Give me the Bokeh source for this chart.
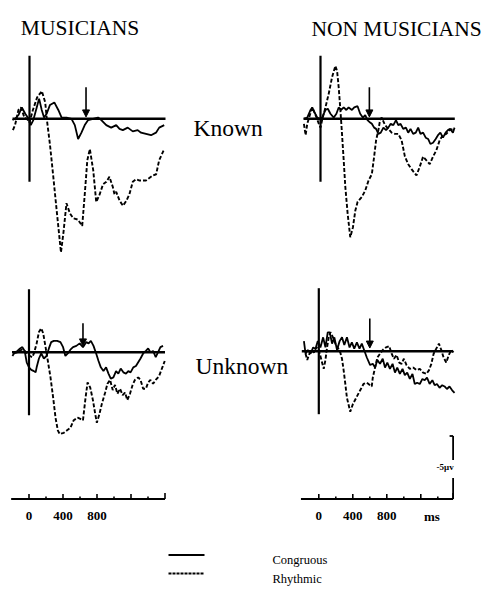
from bokeh.plotting import figure
from bokeh.models import Range1d, Arrow, NormalHead
from bokeh.core.properties import value
from bokeh.embed import file_html
from bokeh.resources import INLINE

# ---------------- data (ms, microvolts; positive plotted downward) ----------------
TL_RHY_T = [-195, -170, -130, -100, -60, -30, 0, 40, 90, 145, 185, 205, 240, 280, 320, 370, 400, 435, 475, 515,
            570, 620, 650, 680, 710, 750, 785, 825, 865, 905, 940, 980, 1000, 1020, 1060, 1100, 1140, 1175, 1215,
            1255, 1295, 1370, 1450, 1490, 1525, 1585]
TL_RHY_V = [0.9, 0.5, -0.7, -0.9, -0.1, 0, 0.3, -0.7, -1.7, -2.2, -1.3, 0.1, 2.0, 4.6, 7.3, 10.6, 9.0, 6.7, 7.5, 7.9,
            8.0, 8.5, 6.0, 3.3, 2.4, 4.1, 6.6, 6.0, 5.2, 5.0, 4.6, 5.4, 6.0, 5.8, 6.5, 6.9, 6.5, 6.0, 5.0,
            4.8, 4.9, 4.9, 4.5, 4.4, 3.3, 2.4]
TL_CON_T = [-200, -170, -130, -90, -50, -10, 15, 45, 85, 113, 144, 171, 202, 241, 292, 339, 378, 436, 494, 533,
            572, 611, 650, 690, 748, 806, 845, 903, 961, 1020, 1059, 1098, 1156, 1215, 1273, 1312, 1371, 1430,
            1488, 1526, 1585]
TL_CON_V = [0.1, 0, -0.3, -0.9, -0.4, 0, 0.5, 0.1, -0.9, -1.6, -0.7, -0.1, -0.4, -1.1, -1.3, -0.7, -0.1, -0.1, 0, 0.5,
            1.6, 1.1, 0.5, 0.1, 0, -0.1, 0.1, 0.5, 0.7, 0.5, 0.8, 0.9, 0.7, 1.0, 0.9, 1.1, 1.2, 1.3,
            1.1, 0.7, 0.5]

TR_RHY_T = [-195, -175, -156, -125, -97, -58, -19, 0, 19, 58, 97, 136, 175, 195, 214, 234, 253, 273, 292, 319,
            350, 382, 409, 436, 487, 526, 565, 604, 631, 654, 681, 701, 720, 759, 798, 837, 876, 915, 954, 993,
            1032, 1071, 1129, 1168, 1207, 1246, 1285, 1324, 1363, 1402, 1441, 1480, 1519, 1558]
TR_RHY_V = [0.4, 1.3, 0.4, -0.3, -0.9, -0.3, 0.4, 0.7, 0.1, -0.9, -2.0, -3.3, -4.2, -3.8, -2.5, -0.7, 1.2, 3.3, 5.4, 7.5,
            9.4, 8.6, 7.3, 6.6, 6.2, 5.7, 4.9, 4.4, 3.0, 1.7, 0.9, 0.1, -0.1, 0.5, 0.8, 1.1, 1.2, 1.2, 1.7, 3.0,
            3.6, 4.0, 4.5, 3.8, 3.0, 3.3, 3.6, 3.0, 2.5, 1.7, 1.3, 1.2, 0.9, 0.8]
TR_CON_T = [-195, -156, -117, -97, -70, -39, -8, 19, 58, 86, 117, 156, 187, 214, 241, 273, 304, 331, 370, 397,
            436, 467, 498, 526, 553, 584, 604, 631, 654, 681, 709, 740, 771, 798, 826, 857, 888, 915, 942, 973,
            1005, 1032, 1059, 1090, 1121, 1149, 1176, 1207, 1238, 1266, 1293, 1324, 1355, 1382, 1410, 1441, 1472,
            1499, 1526, 1558, 1577]
TR_CON_V = [0, -0.1, -0.7, -0.9, -0.5, -0.1, 0, -0.1, -0.7, -0.8, -0.4, -0.1, -0.4, -0.9, -0.7, -0.9, -0.7, -0.9, -0.7, -0.9,
            -1.0, -0.4, -0.1, -0.3, 0.1, 0.3, 0.4, 0.7, 0.8, 1.2, 1.1, 0.7, 0.9, 0.7, 0.4, 0.5, 0.1, 0.5, 0.4, 0.8,
            0.7, 1.1, 0.8, 1.2, 1.1, 0.7, 1.2, 1.1, 1.5, 1.6, 2.0, 1.9, 1.6, 1.3, 1.1, 1.5, 1.1,
            0.9, 0.8, 1.1, 0.7]

BL_RHY_T = [-183, -136, -90, -51, -19, 12, 39, 58, 90, 117, 144, 167, 195, 222, 253, 284, 312, 339, 362, 409,
            448, 487, 526, 572, 604, 635, 662, 689, 720, 752, 779, 798, 829, 857, 896, 923, 954, 985, 1012, 1040,
            1071, 1102, 1129, 1157, 1188, 1219, 1246, 1285, 1312, 1343, 1375, 1402, 1429, 1460, 1491, 1530, 1569, 1597]
BL_RHY_V = [0.1, 0, -0.2, -0.1, 0.1, 0.3, 0.4, 0.1, -0.7, -1.6, -1.9, -1.5, -0.4, 0.7, 2.0, 3.6, 5.2, 6.2, 6.5, 6.4,
            6.2, 6.0, 5.4, 5.2, 5.3, 5.4, 3.8, 2.4, 2.8, 3.8, 4.9, 5.6, 4.9, 4.1, 3.2, 2.5, 2.2, 3.0, 2.6, 3.3,
            2.9, 3.4, 3.2, 3.8, 3.3, 2.6, 2.2, 2.0, 2.2, 2.9, 2.9, 2.4, 2.2, 2.5, 2.2, 1.9, 1.2, 0.7]
BL_CON_T = [-195, -167, -136, -105, -78, -51, -27, 0, 27, 58, 78, 90, 117, 144, 175, 206, 234, 261, 292, 331,
            370, 401, 428, 456, 487, 518, 557, 596, 635, 674, 701, 728, 759, 790, 818, 845, 876, 907, 935, 962,
            993, 1024, 1051, 1079, 1110, 1141, 1168, 1195, 1227, 1258, 1285, 1312, 1343, 1375, 1402, 1429, 1460,
            1491, 1519, 1546, 1577]
BL_CON_V = [0.3, 0, -0.1, -0.3, -0.4, -0.1, 0.8, 1.2, 1.4, 1.5, 1.6, 1.2, 0.5, 0.1, 0.5, 0.3, -0.3, -0.8, -0.9, -0.9,
            -0.8, -0.4, 0.3, 0.1, -0.2, -0.4, -0.5, -0.7, -0.4, -0.8, -0.7, -0.9, -0.5, 0.1, 0.7, 1.2, 1.5, 1.2, 1.7, 2.1,
            2.0, 1.5, 1.7, 1.3, 1.6, 1.7, 1.5, 1.6, 1.2, 1.1, 0.8, 0.5, 0.1, -0.1, -0.3, 0, -0.1,
            0.4, 0, -0.4, -0.5]

BR_RHY_T = [-156, -136, -117, -90, -58, -27, 0, 27, 58, 78, 97, 117, 136, 167, 195, 222, 253, 273, 292, 312,
            331, 370, 401, 440, 487, 526, 565, 623, 635, 662, 689, 720, 752, 790, 829, 857, 884, 915, 946, 974,
            1001, 1032, 1071, 1110, 1149, 1188, 1227, 1266, 1297, 1324, 1351, 1382, 1413, 1441, 1468, 1499, 1530,
            1558, 1585]
BR_RHY_V = [0.2, 0.7, 0.3, -0.1, 0.1, -0.3, -0.1, 0.6, 1.4, 0.7, -0.3, -1.1, -1.5, -1.1, -0.6, -0.3, 0.1, 0.6, 1.5, 2.6,
            3.7, 4.8, 4.2, 3.7, 3.1, 2.6, 2.5, 2.8, 2.1, 1.3, 0.5, 0.2, -0.1, -0.3, -0.4, 0.2, 0.6, 0.3, 0.9, 1.0,
            0.6, 1.1, 1.4, 1.3, 1.5, 1.4, 1.7, 1.8, 1.5, 1.0, 0.2, -0.2, -0.6, -0.1, 0.5, 0.9, 0.3,
            -0.1, 0.1]
BR_CON_T = [-175, -156, -129, -97, -66, -39, -12, 19, 51, 78, 105, 129, 156, 183, 214, 245, 273, 300, 331, 362,
            389, 417, 448, 479, 506, 533, 565, 604, 635, 662, 689, 720, 752, 779, 806, 837, 868, 896, 923, 954,
            985, 1012, 1040, 1071, 1102, 1129, 1157, 1188, 1219, 1246, 1273, 1304, 1336, 1363, 1390, 1421, 1452,
            1480, 1507, 1538, 1569, 1597]
BR_CON_V = [-0.8, 0.2, -0.1, 0.2, -0.3, -0.2, -0.8, -0.3, -1.1, -0.3, -1.5, -1.5, -0.6, -1.1, -0.1, -0.8, -1.1, -0.5, -1.1, -0.3,
            -0.7, -0.2, -0.7, -0.2, -0.6, -0.1, 0.5, 1.1, 1.0, 1.3, 0.7, 1.0, 0.6, 1.3, 0.9, 1.4, 1.0, 1.7, 1.3, 1.8,
            1.4, 1.9, 1.7, 2.2, 1.8, 2.6, 2.5, 2.6, 2.2, 2.3, 2.1, 2.6, 2.3, 2.7, 2.6, 2.9, 2.7,
            2.8, 3.0, 2.8, 3.1, 3.3]

ARROW_MS = {"tl": 665, "tr": 575, "bl": 635, "br": 600}
ARROW_FROM_UV = {"tl": -2.5, "tr": -2.5, "bl": -2.3, "br": -2.6}
ARROW_TO_UV = {"tl": -0.15, "tr": -0.15, "bl": -0.5, "br": -0.25}

EPOCH = (-200, 1600)
VAXIS_UV = 5.0
TICK_MAJOR = [0, 400, 800, 1200]
TICK_MINOR = [200, 600, 1000, 1400]
TICK_LABELS = ["0", "400", "800"]
CAL_UV = 5.0
CAL_LABEL = "-5\u03bcv"

GROUP_TITLES = ["MUSICIANS", "NON MUSICIANS"]
CONDITIONS = ["Known", "Unknown"]
LEGEND = ["Congruous", "Rhythmic"]

# ---------------- layout ----------------
W, H = 483, 588
OFF = 0      # page position of the canvas origin as photographed
KX = 0.085   # px per ms
KY = 12.6    # px per microvolt
PANELS = {"tl": (29.0, 118.3), "tr": (320.0, 118.3), "bl": (28.5, 351.7), "br": (318.3, 350.7)}
AXIS_Y = 498.5
FONT = value("Liberation Serif")

p = figure(width=W, height=H, x_range=Range1d(OFF, OFF + W), y_range=Range1d(OFF + H, OFF),
           output_backend="svg", toolbar_location=None,
           x_axis_location=None, y_axis_location=None, min_border=0)
p.outline_line_color = None
p.xgrid.visible = False
p.ygrid.visible = False
p.background_fill_color = "white"
p.border_fill_color = "white"

for key, (x0, y0) in PANELS.items():
    a = -(x0 - OFF) / KX
    d = -(y0 - OFF) / KY
    p.extra_x_ranges[key + "_x"] = Range1d(a, a + W / KX)
    p.extra_y_ranges[key + "_y"] = Range1d(d + H / KY, d)

traces = {
    "tl": (TL_CON_T, TL_CON_V, TL_RHY_T, TL_RHY_V),
    "tr": (TR_CON_T, TR_CON_V, TR_RHY_T, TR_RHY_V),
    "bl": (BL_CON_T, BL_CON_V, BL_RHY_T, BL_RHY_V),
    "br": (BR_CON_T, BR_CON_V, BR_RHY_T, BR_RHY_V),
}

for key, (ct, cv, rt, rv) in traces.items():
    rx, ry = key + "_x", key + "_y"
    end = EPOCH[1] if key[1] == "l" else 1580
    p.line([EPOCH[0], end], [0, 0], x_range_name=rx, y_range_name=ry, line_color="black", line_width=2.6)
    p.line([0, 0], [-VAXIS_UV, VAXIS_UV], x_range_name=rx, y_range_name=ry, line_color="black", line_width=2.2)
    p.line(ct, cv, x_range_name=rx, y_range_name=ry, line_color="black", line_width=1.8)
    p.line(rt, rv, x_range_name=rx, y_range_name=ry, line_color="black", line_width=1.9, line_dash="4 2")
    p.add_layout(Arrow(end=NormalHead(size=7, fill_color="black", line_color="black"),
                       x_start=ARROW_MS[key], x_end=ARROW_MS[key],
                       y_start=ARROW_FROM_UV[key], y_end=ARROW_TO_UV[key],
                       x_range_name=rx, y_range_name=ry, line_color="black", line_width=1.6))

# time axes under the bottom panels
for key in ["bl", "br"]:
    rx = key + "_x"
    end = EPOCH[1] if key == "bl" else 1580
    p.line([EPOCH[0] - 10, end], [AXIS_Y, AXIS_Y], x_range_name=rx, line_color="black", line_width=1.8)
    p.segment(x0=TICK_MAJOR, x1=TICK_MAJOR, y0=[AXIS_Y] * 4, y1=[AXIS_Y - 5] * 4,
              x_range_name=rx, line_color="black", line_width=1.6)
    p.segment(x0=TICK_MINOR, x1=TICK_MINOR, y0=[AXIS_Y] * 4, y1=[AXIS_Y - 2.5] * 4,
              x_range_name=rx, line_color="black", line_width=1.6)
    p.segment(x0=[end], x1=[end], y0=[AXIS_Y], y1=[AXIS_Y - 6], x_range_name=rx,
              line_color="black", line_width=1.6)
    labels = TICK_LABELS + (["ms"] if key == "br" else [])
    pos = TICK_MAJOR[:3] + ([1330] if key == "br" else [])
    p.text(x=pos, y=[AXIS_Y + 17] * len(pos), text=labels, x_range_name=rx,
           text_font=FONT, text_font_size="13px", text_font_style="bold",
           text_align="center", text_baseline="alphabetic", text_color="black")

# calibration bar at the end of the right time axis
cal_x = PANELS["br"][0] + 1580 * KX
cal_top = AXIS_Y - CAL_UV * KY
p.segment(x0=[cal_x, cal_x, cal_x - 3.5], x1=[cal_x, cal_x, cal_x],
          y0=[cal_top, AXIS_Y - 21, cal_top], y1=[cal_top + 24, AXIS_Y, cal_top],
          line_color="black", line_width=1.8)
p.text(x=[cal_x - 8], y=[cal_top + 31], text=[CAL_LABEL], text_font=FONT, text_font_size="9px",
       text_font_style="bold", text_align="center", text_baseline="middle", text_color="black")

# titles and condition labels
p.text(x=[79.5, 396], y=[27.5, 28], text=GROUP_TITLES, text_font=FONT, text_font_size="21.5px",
       text_align="center", text_baseline="alphabetic", text_color="black")
p.text(x=[193, 195], y=[127.5, 365.5], text=CONDITIONS, text_font=FONT, text_font_size="23.5px",
       text_align="left", text_baseline="alphabetic", text_color="black")

# legend
p.line([168, 204], [554.5, 554.5], line_color="black", line_width=1.8)
p.line([168, 204], [573, 573], line_color="black", line_width=1.8, line_dash="3 1")
p.text(x=[272, 272], y=[559.5, 578.5], text=LEGEND, text_font=FONT, text_font_size="12.5px",
       text_align="left", text_baseline="alphabetic", text_color="black")

open("out.html", "w").write(file_html(p, INLINE))
